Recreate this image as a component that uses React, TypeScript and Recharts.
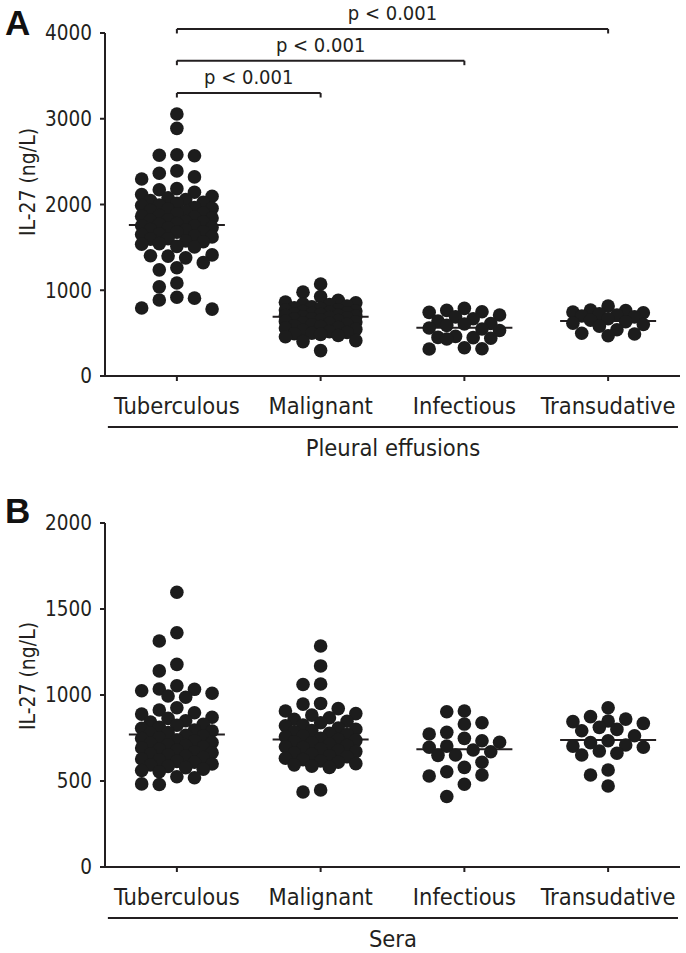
import React from 'react';
import { ScatterChart, Scatter, XAxis, YAxis, ReferenceLine } from 'recharts';

const categories = ['Tuberculous', 'Malignant', 'Infectious', 'Transudative'];
const pleuralTicks = [0, 1000, 2000, 3000, 4000];
const seraTicks = [0, 500, 1000, 1500, 2000];

const pleuralTuberculous = [3055, 2888, 2580, 2575, 2568, 2392, 2365, 2322, 2298, 2185, 2172, 2143, 2117, 2096, 2079, 2058, 2047, 2026, 2014, 1993, 1988, 1964, 1955, 1943, 1928, 1917, 1899, 1891, 1872, 1864, 1850, 1842, 1821, 1815, 1800, 1795, 1779, 1770, 1752, 1749, 1731, 1724, 1709, 1702, 1683, 1676, 1655, 1650, 1631, 1622, 1601, 1596, 1574, 1566, 1544, 1537, 1512, 1505, 1412, 1403, 1398, 1378, 1322, 1262, 1238, 1085, 1040, 918, 908, 886, 793, 780];
const pleuralMalignant = [1073, 978, 926, 884, 861, 853, 842, 833, 815, 808, 794, 787, 773, 769, 758, 751, 743, 737, 729, 722, 718, 709, 704, 695, 691, 682, 677, 668, 663, 651, 646, 637, 630, 621, 614, 603, 597, 586, 578, 566, 559, 544, 532, 517, 508, 499, 493, 486, 472, 458, 412, 401, 296];
const pleuralInfectious = [789, 765, 750, 742, 711, 690, 668, 640, 612, 606, 590, 560, 548, 530, 462, 450, 447, 440, 432, 330, 318, 315];
const pleuralTransudative = [816, 770, 762, 745, 738, 725, 711, 700, 690, 668, 650, 632, 615, 600, 580, 540, 498, 490, 470];
const pleuralMeans = [1760, 692, 563, 640];

const seraTuberculous = [1597, 1362, 1314, 1178, 1140, 1054, 1035, 1033, 1025, 1010, 994, 987, 926, 913, 897, 889, 871, 864, 850, 843, 829, 824, 812, 807, 796, 791, 781, 777, 766, 762, 751, 747, 738, 733, 724, 719, 711, 706, 697, 692, 684, 679, 670, 664, 657, 651, 643, 637, 628, 623, 614, 609, 599, 593, 585, 578, 569, 561, 554, 525, 519, 483, 480];
const seraMalignant = [1285, 1169, 1064, 1061, 951, 947, 921, 907, 892, 883, 868, 859, 847, 839, 826, 821, 808, 801, 793, 786, 777, 770, 762, 757, 748, 741, 736, 728, 722, 713, 706, 699, 694, 686, 677, 671, 662, 655, 647, 641, 632, 624, 616, 609, 601, 594, 586, 579, 448, 436];
const seraInfectious = [907, 903, 839, 831, 783, 773, 748, 734, 725, 703, 696, 680, 670, 651, 649, 609, 579, 554, 535, 529, 481, 410];
const seraTransudative = [926, 874, 860, 849, 845, 835, 812, 800, 792, 763, 734, 723, 709, 703, 696, 674, 661, 651, 564, 535, 471];
const seraMeans = [771, 742, 684, 738];

const comparisons = [
  { from: 1, to: 2, y: 3300, text: 'p < 0.001' },
  { from: 1, to: 3, y: 3677, text: 'p < 0.001' },
  { from: 1, to: 4, y: 4047, text: 'p < 0.001' },
];

const FONT = '"DejaVu Sans Condensed", "DejaVu Sans", sans-serif';
const INK = '#231f20';
const DOT = '#1c1c1c';
const W = 686;
const PLOT_W = 575;
const PX_PER_CAT = PLOT_W / 4;
const COL_PX = 17.6;
const DOT_R = 6.8;
const HALF_LINE = 0.334;

function swarm(values: number[], pxPerUnit: number, center: number) {
  const order = values.map((_, i) => i).sort((a, b) => values[b] - values[a]);
  const firstSlots = [0, -1, 1, -2, 2];
  const fineSlots = [0, -0.5, 0.5, -1, 1, -1.5, 1.5, -2, 2];
  const placed: { c: number; py: number }[] = [];
  const out: { x: number; y: number }[] = new Array(values.length);
  const minDist = (c: number, py: number) => {
    let d = Infinity;
    for (const p of placed) {
      const dx = (c - p.c) * COL_PX;
      const dy = py - p.py;
      d = Math.min(d, Math.sqrt(dx * dx + dy * dy));
    }
    return d;
  };
  for (const i of order) {
    const py = values[i] * pxPerUnit;
    let chosen: number | null = null;
    for (const c of firstSlots) {
      if (minDist(c, py) >= 2 * DOT_R - 1) {
        chosen = c;
        break;
      }
    }
    if (chosen === null) {
      let best = 0;
      let bestD = -1;
      for (const c of fineSlots) {
        const d = minDist(c, py);
        if (d > bestD + 0.01) {
          bestD = d;
          best = c;
        }
      }
      chosen = best;
    }
    placed.push({ c: chosen, py });
    out[i] = { x: center + (chosen * COL_PX) / PX_PER_CAT, y: values[i] };
  }
  return out;
}

const dotShape = (p: any) => <circle cx={p.cx} cy={p.cy} r={DOT_R} fill={DOT} />;

const yTick = (p: any) => (
  <text
    x={p.x}
    y={p.y}
    dy="0.36em"
    textAnchor="end"
    fill={INK}
    style={{ fontSize: '20.5px', fontFamily: FONT }}
  >
    {p.payload.value}
  </text>
);

type PanelProps = {
  groups: number[][];
  means: number[];
  ticks: number[];
  max: number;
  height: number;
  xAxisHeight: number;
  title: string;
  labelY: number;
  brackets?: typeof comparisons;
};

function Panel({ groups, means, ticks, max, height, xAxisHeight, title, labelY, brackets }: PanelProps) {
  const plotH = height - 33 - xAxisHeight;
  const pxPerUnit = plotH / max;
  const underlineY = -51 / pxPerUnit;
  const tickDrop = 4.5 / pxPerUnit;
  return (
    <ScatterChart width={W} height={height} margin={{ top: 33, right: 6, left: 0, bottom: 0 }}>
      <XAxis
        dataKey="x"
        type="number"
        domain={[0.5, 4.5]}
        ticks={[1, 2, 3, 4]}
        interval={0}
        allowDataOverflow
        height={xAxisHeight}
        tickFormatter={(v: number) => categories[v - 1]}
        axisLine={{ stroke: INK, strokeWidth: 2 }}
        tickLine={{ stroke: INK, strokeWidth: 2 }}
        tickSize={5}
        tickMargin={16}
        tick={{ fontSize: 23.5, fill: INK, fontFamily: FONT }}
      />
      <YAxis
        dataKey="y"
        type="number"
        domain={[0, max]}
        ticks={ticks}
        interval={0}
        allowDataOverflow
        width={105}
        axisLine={{ stroke: INK, strokeWidth: 2 }}
        tickLine={{ stroke: INK, strokeWidth: 2 }}
        tickSize={5}
        tickMargin={8}
        tick={yTick}
        label={{
          content: () => (
            <text
              x={28}
              y={labelY}
              transform={`rotate(-90, 28, ${labelY})`}
              textAnchor="middle"
              dominantBaseline="central"
              fill={INK}
              style={{ fontSize: '21px', fontFamily: FONT }}
            >
              IL-27 (ng/L)
            </text>
          ),
        }}
      />
      {groups.map((g, gi) => (
        <Scatter
          key={categories[gi]}
          data={swarm(g, pxPerUnit, gi + 1)}
          shape={dotShape}
          isAnimationActive={false}
        />
      ))}
      {means.map((m, i) => (
        <ReferenceLine
          key={'m' + i}
          segment={[
            { x: i + 1 - HALF_LINE, y: m },
            { x: i + 1 + HALF_LINE, y: m },
          ]}
          stroke={INK}
          strokeWidth={2}
          ifOverflow="visible"
        />
      ))}
      {(brackets || []).map((b, i) => (
        <ReferenceLine
          key={'b' + i}
          segment={[
            { x: b.from, y: b.y },
            { x: b.to, y: b.y },
          ]}
          stroke={INK}
          strokeWidth={2}
          ifOverflow="visible"
          label={{ value: b.text, position: 'top', offset: 9, fontSize: 20, fill: INK, fontFamily: FONT }}
        />
      ))}
      {(brackets || []).map((b, i) => (
        <ReferenceLine
          key={'bl' + i}
          segment={[
            { x: b.from, y: b.y },
            { x: b.from, y: b.y - tickDrop },
          ]}
          stroke={INK}
          strokeWidth={2}
          ifOverflow="visible"
        />
      ))}
      {(brackets || []).map((b, i) => (
        <ReferenceLine
          key={'br' + i}
          segment={[
            { x: b.to, y: b.y },
            { x: b.to, y: b.y - tickDrop },
          ]}
          stroke={INK}
          strokeWidth={2}
          ifOverflow="visible"
        />
      ))}
      <ReferenceLine
        segment={[
          { x: 0.52, y: underlineY },
          { x: 4.486, y: underlineY },
        ]}
        stroke={INK}
        strokeWidth={2}
        ifOverflow="visible"
        label={{ value: title, position: 'bottom', offset: 12, fontSize: 23.5, fill: INK, fontFamily: FONT }}
      />
    </ScatterChart>
  );
}

const letterStyle: React.CSSProperties = {
  position: 'absolute',
  left: 5,
  fontSize: 35,
  lineHeight: '34px',
  fontWeight: 700,
  fontFamily: '"Liberation Sans", Arial, sans-serif',
  color: '#111',
};

export default function App() {
  return (
    <div style={{ position: 'absolute', left: 0, top: 0, width: W, height: 953, background: '#fff' }}>
      <div style={{ ...letterStyle, top: 6 }}>A</div>
      <div style={{ ...letterStyle, top: 494 }}>B</div>
      <div style={{ position: 'absolute', left: 0, top: 0 }}>
        <Panel
          groups={[pleuralTuberculous, pleuralMalignant, pleuralInfectious, pleuralTransudative]}
          means={pleuralMeans}
          ticks={pleuralTicks}
          max={4000}
          height={480}
          xAxisHeight={104}
          title="Pleural effusions"
          labelY={182}
          brackets={comparisons}
        />
      </div>
      <div style={{ position: 'absolute', left: 0, top: 490 }}>
        <Panel
          groups={[seraTuberculous, seraMalignant, seraInfectious, seraTransudative]}
          means={seraMeans}
          ticks={seraTicks}
          max={2000}
          height={463}
          xAxisHeight={86}
          title="Sera"
          labelY={186}
        />
      </div>
    </div>
  );
}
